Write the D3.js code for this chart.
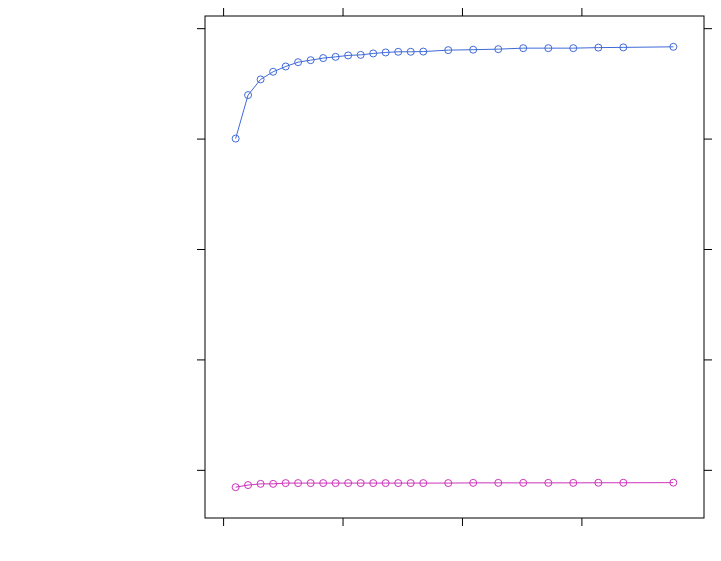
<!DOCTYPE html>
<html>
<head>
<meta charset="utf-8">
<script src="https://cdn.jsdelivr.net/npm/d3@7"></script>
<style>
  body { margin: 0; background: #fff; }
  svg { display: block; }
</style>
</head>
<body>
<div id="chart"></div>
<script>
// x positions (radians-like spacing)
const xVals = [0.105, 0.209, 0.314, 0.419, 0.524, 0.628, 0.733, 0.838, 0.942, 1.047,
               1.152, 1.257, 1.361, 1.466, 1.571, 1.676, 1.885, 2.094, 2.304, 2.513,
               2.723, 2.932, 3.142, 3.351, 3.770];

const blueVals = [3.00, 3.394, 3.536, 3.605, 3.653, 3.692, 3.710, 3.729, 3.740, 3.753,
                  3.758, 3.771, 3.780, 3.786, 3.786, 3.788, 3.801, 3.805, 3.810, 3.819,
                  3.819, 3.819, 3.824, 3.826, 3.831];

const pinkVals = [-0.157, -0.138, -0.127, -0.127, -0.120, -0.120, -0.120, -0.120, -0.120, -0.120,
                  -0.120, -0.120, -0.120, -0.120, -0.120, -0.120, -0.120, -0.118, -0.118, -0.118,
                  -0.118, -0.118, -0.117, -0.117, -0.116];

const xTicks = [0, 1, 2, 3];
const yTicks = [0, 1, 2, 3, 4];

const seriesColors = ["#3f6ad8", "#cc33bb"];

const width = 721, height = 561;
const panel = {left: 205, right: 704, top: 16, bottom: 518};
const PAD = 0.07;   // lattice style axis padding

function padded(ext) {
  const d = (ext[1] - ext[0]) * PAD;
  return [ext[0] - d, ext[1] + d];
}

const series = [
  {values: blueVals, color: seriesColors[0]},
  {values: pinkVals, color: seriesColors[1]}
];

const allY = blueVals.concat(pinkVals);

const x = d3.scaleLinear()
  .domain(padded(d3.extent(xVals)))
  .range([panel.left, panel.right]);
const y = d3.scaleLinear()
  .domain(padded(d3.extent(allY)))
  .range([panel.bottom, panel.top]);

const svg = d3.select("#chart").append("svg")
  .attr("width", width)
  .attr("height", height);

// ticks on all four sides, no labels
function tickAxis(axis, tr) {
  const g = svg.append("g")
    .attr("transform", tr)
    .call(axis.tickSize(8).tickSizeOuter(0).tickFormat(""));
  g.select(".domain").remove();
  g.selectAll(".tick line").attr("stroke", "#000");
}
tickAxis(d3.axisBottom(x).tickValues(xTicks), `translate(0,${panel.bottom})`);
tickAxis(d3.axisTop(x).tickValues(xTicks), `translate(0,${panel.top})`);
tickAxis(d3.axisLeft(y).tickValues(yTicks), `translate(${panel.left},0)`);
tickAxis(d3.axisRight(y).tickValues(yTicks), `translate(${panel.right},0)`);

svg.append("rect")
  .attr("x", panel.left)
  .attr("y", panel.top)
  .attr("width", panel.right - panel.left)
  .attr("height", panel.bottom - panel.top)
  .attr("fill", "none")
  .attr("stroke", "#000")
  .attr("stroke-width", 1);

const line = d3.line()
  .x((d, i) => x(xVals[i]))
  .y(d => y(d));

series.forEach(s => {
  const g = svg.append("g");
  g.append("path")
    .datum(s.values)
    .attr("d", line)
    .attr("fill", "none")
    .attr("stroke", s.color)
    .attr("stroke-width", 1);
  g.selectAll("circle")
    .data(s.values).enter()
    .append("circle")
    .attr("cx", (d, i) => x(xVals[i]))
    .attr("cy", d => y(d))
    .attr("r", 3.5)
    .attr("fill", "none")
    .attr("stroke", s.color)
    .attr("stroke-width", 1);
});
</script>
</body>
</html>
